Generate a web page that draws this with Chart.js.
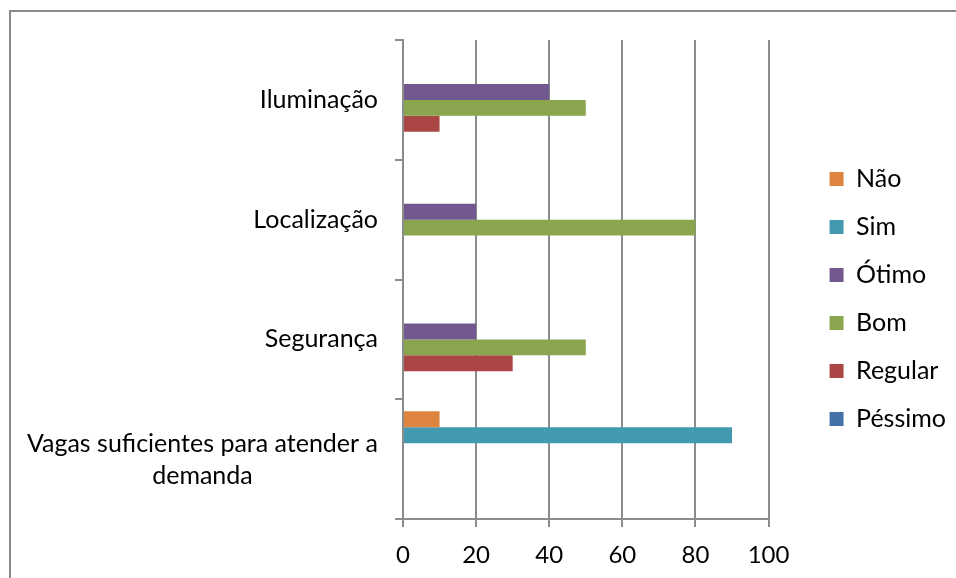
<!DOCTYPE html>
<html>
<head>
<meta charset="utf-8">
<script src="https://cdn.jsdelivr.net/npm/chart.js@4/dist/chart.umd.min.js"></script>
<style>
  html, body { margin: 0; padding: 0; background: #fff; }
  #wrap { width: 956px; height: 578px; position: relative; }
</style>
</head>
<body>
<div id="wrap"><canvas id="c" width="956" height="578"></canvas></div>
<script>
const categories = ['Iluminação', 'Localização', 'Segurança', ['Vagas suficientes para atender a', 'demanda']];
const seriesNames = ['Não', 'Sim', 'Ótimo', 'Bom', 'Regular', 'Péssimo'];
const naoValues = [null, null, null, 10];
const simValues = [null, null, null, 90];
const otimoValues = [40, 20, 20, null];
const bomValues = [50, 80, 50, null];
const regularValues = [10, null, 30, null];
const pessimoValues = [null, null, null, null];
const xTicks = [0, 20, 40, 60, 80, 100];

const seriesColors = ['#DD8440', '#4299B0', '#71588F', '#89A54E', '#AA4643', '#4572A7'];
const seriesValues = [naoValues, simValues, otimoValues, bomValues, regularValues, pessimoValues];

const FONT = 'Lato';
const GRID = '#8c8c8c';

const frame = {
  id: 'frame',
  afterLayout(chart) {
    // let the bottom axis labels use the space below the axis box
    chart.scales.x.bottom = chart.height;
  },
  beforeDraw(chart) {
    const ctx = chart.ctx;
    ctx.save();
    ctx.fillStyle = '#fff';
    ctx.fillRect(0, 0, chart.width, chart.height);
    ctx.strokeStyle = '#8a8a8a';
    ctx.lineWidth = 2;
    ctx.beginPath();
    ctx.moveTo(10, chart.height + 2);
    ctx.lineTo(10, 11);
    ctx.lineTo(chart.width + 2, 11);
    ctx.stroke();
    ctx.restore();
  }
};

const yLabels = {
  id: 'yLabels',
  afterDraw(chart) {
    const ctx = chart.ctx;
    const ys = chart.scales.y;
    ctx.save();
    ctx.font = '25px ' + FONT;
    ctx.fillStyle = '#000';
    ctx.textBaseline = 'alphabetic';
    const right = 378;
    categories.forEach((lab, i) => {
      const cy = ys.getPixelForTick(i);
      const lines = Array.isArray(lab) ? lab : [lab];
      const n = lines.length;
      let maxW = 0;
      lines.forEach(l => { maxW = Math.max(maxW, ctx.measureText(l).width); });
      lines.forEach((l, k) => {
        if (n > 1) {
          ctx.textAlign = 'center';
          ctx.fillText(l, right - maxW / 2, cy + 9 + (k - (n - 1) / 2) * 32);
        } else {
          ctx.textAlign = 'right';
          ctx.fillText(l, right, cy + 8);
        }
      });
    });
    ctx.restore();
  }
};

new Chart(document.getElementById('c'), {
  type: 'bar',
  data: {
    labels: categories,
    datasets: seriesNames.map((name, i) => ({
      label: name,
      data: seriesValues[i],
      backgroundColor: seriesColors[i],
      borderWidth: 0,
      categoryPercentage: 0.8,
      barPercentage: 1.0
    }))
  },
  options: {
    indexAxis: 'y',
    responsive: false,
    animation: false,
    devicePixelRatio: 1,
    layout: { padding: { left: 0, top: 40, right: 0, bottom: 20 } },
    plugins: {
      tooltip: { enabled: false },
      legend: {
        position: 'right',
        align: 'center',
        labels: {
          boxWidth: 14,
          boxHeight: 14,
          padding: 23,
          color: '#000',
          font: { family: FONT, size: 25 }
        }
      }
    },
    scales: {
      x: {
        type: 'linear',
        position: 'bottom',
        min: 0,
        max: 100,
        afterBuildTicks(s) { s.ticks = xTicks.map(v => ({ value: v })); },
        afterFit(s) { s.height = 39; },
        grid: { color: GRID, lineWidth: 2, drawTicks: true, tickLength: 8 },
        border: { color: GRID, width: 2 },
        ticks: { color: '#000', padding: 14, font: { family: FONT, size: 24 }, maxRotation: 0 }
      },
      y: {
        type: 'category',
        position: 'left',
        offset: true,
        afterFit(s) { s.width = 403; },
        grid: { offset: true, drawOnChartArea: false, drawTicks: true, tickLength: 8, color: GRID, lineWidth: 2 },
        border: { color: GRID, width: 2 },
        ticks: { display: false }
      },
      r: {
        type: 'linear',
        position: 'right',
        display: true,
        afterFit(s) { s.width = 38; },
        grid: { display: false },
        border: { display: false },
        ticks: { display: false }
      }
    }
  },
  plugins: [frame, yLabels]
});
</script>
</body>
</html>
